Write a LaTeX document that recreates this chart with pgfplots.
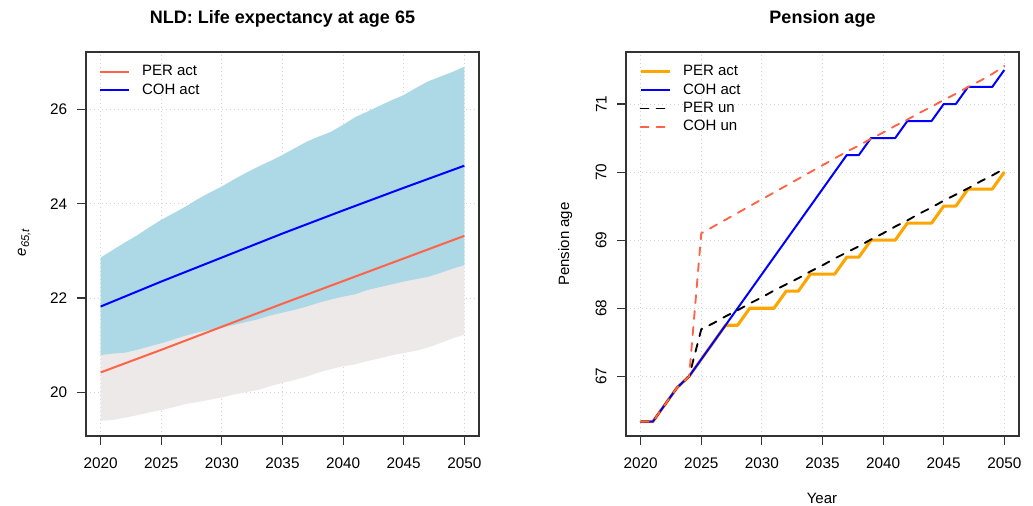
\documentclass[border=0pt]{standalone}
\usepackage{fontspec}
\setmainfont{Liberation Sans}
\usepackage{pgfplots}
\usepackage{pgfplotstable}
\pgfplotsset{compat=1.18}
\definecolor{rlightblue}{HTML}{ADD8E6}
\definecolor{rsnow}{HTML}{EEE9E9}
\definecolor{rtomato}{HTML}{FF6347}
\definecolor{rorange}{HTML}{FFA500}
\definecolor{rgrid}{HTML}{D3D3D3}

\pgfplotstableread{
year peract cohact perun cohun
2020 66.333 66.333 66.333 66.333
2021 66.333 66.333 66.333 66.333
2022 66.583 66.583 66.583 66.583
2023 66.833 66.833 66.833 66.833
2024 67.00 67.00 67.00 67.00
2025 67.25 67.25 67.69 69.10
2026 67.50 67.50 67.78 69.20
2027 67.75 67.75 67.88 69.30
2028 67.75 68.00 67.97 69.40
2029 68.00 68.25 68.07 69.50
2030 68.00 68.50 68.16 69.60
2031 68.00 68.75 68.26 69.70
2032 68.25 69.00 68.35 69.80
2033 68.25 69.25 68.44 69.90
2034 68.50 69.50 68.54 70.00
2035 68.50 69.75 68.63 70.10
2036 68.50 70.00 68.73 70.20
2037 68.75 70.25 68.82 70.30
2038 68.75 70.25 68.91 70.39
2039 69.00 70.50 69.01 70.49
2040 69.00 70.50 69.10 70.58
2041 69.00 70.50 69.20 70.68
2042 69.25 70.75 69.29 70.77
2043 69.25 70.75 69.39 70.87
2044 69.25 70.75 69.48 70.96
2045 69.50 71.00 69.58 71.06
2046 69.50 71.00 69.67 71.15
2047 69.75 71.25 69.76 71.25
2048 69.75 71.25 69.86 71.34
2049 69.75 71.25 69.95 71.44
2050 70.00 71.50 70.05 71.56
}\pension

\pgfplotsset{
 rbase/.style={
  scale only axis, width=294.75pt, height=288pt,
  xmin=2018.79, xmax=2051.21,
  xtick={2020,2025,2030,2035,2040,2045,2050},
  xticklabels={2020,2025,2030,2035,2040,2045,2050},
  tick pos=left, tick align=outside, major tick length=6.75pt,
  axis line style={line width=0.8pt, black!80},
  every tick/.style={line width=0.8pt, black!80},
  grid=major,
  major grid style={rgrid, line width=0.75pt, dash pattern=on 0.75pt off 2.25pt},
  ticklabel style={font=\fontsize{11.5}{13}\selectfont, inner sep=0pt},
  xticklabel style={anchor=base, yshift=-17.6pt},
  legend style={at={(axis description cs:0.0331,0.9667)}, anchor=north west,
    draw=none, fill=none, inner sep=0pt, outer sep=0pt,
    font=\fontsize{11.25}{13}\selectfont, row sep=3pt,
    nodes={inner sep=0pt, text height=8.3pt, text depth=2.4pt},
    /tikz/every odd column/.append style={column sep=9pt}},
  legend image code/.code={\draw[#1] (0pt,0pt) -- (21.75pt,0pt);},
  legend cell align=left,
 }
}

\begin{document}
\begin{tikzpicture}
\path[use as bounding box] (0,0) rectangle (774.75pt,379.5pt);

\begin{axis}[rbase, at={(64.5pt,52.5pt)}, anchor=south west,
  ymin=19.07, ymax=27.225,
  ytick={20,22,24,26}, yticklabels={20,22,24,26},
  yticklabel style={anchor=east, xshift=-7.2pt}]
% PER band (lower edge, then hidden upper edge reversed)
\addplot[fill=rsnow, draw=none, forget plot] coordinates {
(2020,19.39) (2021,19.41) (2022,19.46) (2023,19.51) (2024,19.57) (2025,19.62)
(2026,19.68) (2027,19.75) (2028,19.79) (2029,19.84) (2030,19.89) (2031,19.95)
(2032,20.00) (2033,20.05) (2034,20.13) (2035,20.20) (2036,20.26) (2037,20.33)
(2038,20.42) (2039,20.49) (2040,20.55) (2041,20.59) (2042,20.66) (2043,20.72)
(2044,20.78) (2045,20.83) (2046,20.88) (2047,20.95) (2048,21.04) (2049,21.14)
(2050,21.22)
(2050,25.42) (2045,24.9) (2040,24.3) (2035,23.6) (2030,22.9) (2025,22.2) (2020,21.45)
} -- cycle;
% COH band (lower edge, then upper edge reversed)
\addplot[fill=rlightblue, draw=none, forget plot] coordinates {
(2020,20.79) (2021,20.82) (2022,20.84) (2023,20.90) (2024,20.97) (2025,21.04)
(2026,21.12) (2027,21.20) (2028,21.27) (2029,21.32) (2030,21.37) (2031,21.43)
(2032,21.49) (2033,21.55) (2034,21.63) (2035,21.69) (2036,21.75) (2037,21.82)
(2038,21.90) (2039,21.97) (2040,22.03) (2041,22.08) (2042,22.17) (2043,22.23)
(2044,22.29) (2045,22.35) (2046,22.40) (2047,22.45) (2048,22.53) (2049,22.62)
(2050,22.70)
(2050,26.91) (2049,26.80) (2048,26.70) (2047,26.60) (2046,26.46) (2045,26.31)
(2044,26.20) (2043,26.08) (2042,25.96) (2041,25.84) (2040,25.68) (2039,25.53)
(2038,25.43) (2037,25.32) (2036,25.18) (2035,25.04) (2034,24.91) (2033,24.79)
(2032,24.66) (2031,24.52) (2030,24.37) (2029,24.24) (2028,24.10) (2027,23.94)
(2026,23.80) (2025,23.66) (2024,23.50) (2023,23.33) (2022,23.18) (2021,23.02)
(2020,22.86)
} -- cycle;
\addplot[rtomato, line width=1.5pt] coordinates {(2020,20.42) (2025,20.90) (2030,21.39) (2035,21.88) (2040,22.36) (2045,22.84) (2050,23.32)};
\addlegendentry{PER act}
\addplot[blue, line width=1.5pt] coordinates {(2020,21.82) (2025,22.35) (2030,22.86) (2035,23.37) (2040,23.86) (2045,24.34) (2050,24.81)};
\addlegendentry{COH act}
\end{axis}

\begin{axis}[rbase, at={(469.5pt,52.5pt)}, anchor=south west,
  ymin=66.123, ymax=71.764,
  ytick={67,68,69,70,71}, yticklabels={67,68,69,70,71},
  yticklabel style={xshift=-7.6pt, rotate=90, anchor=south}]
\addplot[rorange, line width=2.3pt, line join=round] table[x=year, y=peract] {\pension};
\addlegendentry{PER act}
\addplot[blue, line width=1.5pt, line join=round] table[x=year, y=cohact] {\pension};
\addlegendentry{COH act}
\addplot[black, line width=1.4pt, line cap=round, dash pattern=on 6pt off 6pt] table[x=year, y=perun] {\pension};
\addlegendentry{PER un}
\addplot[rtomato, line width=1.4pt, line cap=round, dash pattern=on 6pt off 6pt] table[x=year, y=cohun] {\pension};
\addlegendentry{COH un}
\end{axis}

\node[anchor=base, font=\bfseries\fontsize{13.5}{16}\selectfont] at (211.875pt,361.5pt) {NLD: Life expectancy at age 65};
\node[anchor=base, font=\bfseries\fontsize{13.5}{16}\selectfont] at (616.875pt,361.5pt) {Pension age};
\node[anchor=base, rotate=90, font=\fontsize{11.25}{13}\selectfont] at (19.5pt,197.6pt) {\textit{e}\raisebox{-0.4ex}{\fontsize{8.4}{9}\selectfont\textit{65,t}}};
\node[anchor=base, rotate=90, font=\fontsize{11.25}{13}\selectfont] at (426.75pt,196.5pt) {Pension age};
\node[anchor=base, font=\fontsize{11.25}{13}\selectfont] at (616.5pt,2pt) {Year};
\end{tikzpicture}
\end{document}
